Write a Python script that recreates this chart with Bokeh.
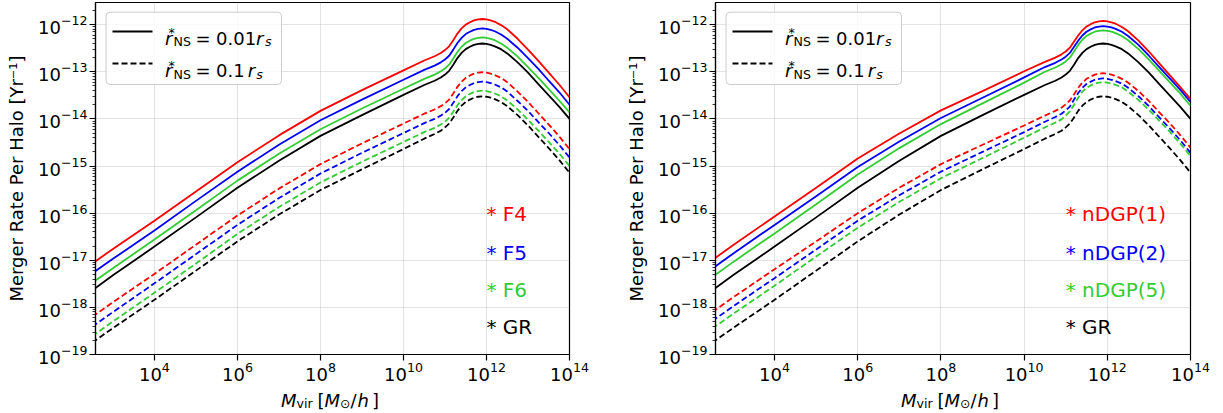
from bokeh.plotting import figure
from bokeh.models import Range1d, FixedTicker, LogTickFormatter, Label, BoxAnnotation, Arrow
from bokeh.layouts import row, column
from bokeh.embed import file_html
from bokeh.resources import INLINE

FONT = "DejaVu Sans"

# ---------------- data (log10 values) ----------------
log_mass = [2.5, 3.0, 4.0, 5.0, 6.0, 7.0, 8.0, 9.0, 10.0, 10.5, 10.75, 10.9, 11.0, 11.1,
            11.2, 11.3, 11.4, 11.5, 11.6, 11.7, 11.8, 11.9, 12.0, 12.1, 12.2, 12.35,
            12.5, 12.75, 13.0, 13.25, 13.5, 13.75, 14.0]

# left panel, r*_NS = 0.01 r_s
f4_solid = [-17.07, -16.76, -16.16, -15.54, -14.92, -14.35, -13.83, -13.39, -12.97, -12.76, -12.67,
            -12.60, -12.54, -12.46, -12.33, -12.19, -12.08, -12.00, -11.95, -11.91, -11.89, -11.88,
            -11.89, -11.91, -11.94, -12.01, -12.10, -12.30, -12.53, -12.77, -13.02, -13.27, -13.54]
f5_solid = [-17.28, -16.97, -16.37, -15.74, -15.12, -14.55, -14.03, -13.59, -13.17, -12.96, -12.87,
            -12.80, -12.74, -12.66, -12.53, -12.39, -12.28, -12.20, -12.15, -12.11, -12.09, -12.08,
            -12.09, -12.11, -12.14, -12.21, -12.30, -12.49, -12.71, -12.94, -13.19, -13.43, -13.70]
f6_solid = [-17.48, -17.17, -16.56, -15.94, -15.31, -14.74, -14.22, -13.78, -13.36, -13.15, -13.06,
            -12.99, -12.93, -12.85, -12.72, -12.58, -12.47, -12.39, -12.34, -12.30, -12.28, -12.27,
            -12.28, -12.30, -12.33, -12.40, -12.49, -12.68, -12.90, -13.13, -13.37, -13.61, -13.86]
gr_solid = [-17.64, -17.32, -16.71, -16.09, -15.46, -14.89, -14.36, -13.92, -13.49, -13.28, -13.19,
            -13.12, -13.06, -12.98, -12.85, -12.71, -12.60, -12.52, -12.47, -12.43, -12.41, -12.40,
            -12.41, -12.43, -12.46, -12.52, -12.61, -12.80, -13.02, -13.26, -13.50, -13.74, -14.00]
# left panel, r*_NS = 0.1 r_s
f4_dashed = [-18.20, -17.89, -17.29, -16.67, -16.05, -15.48, -14.96, -14.52, -14.10, -13.89, -13.80,
             -13.73, -13.67, -13.59, -13.46, -13.32, -13.21, -13.13, -13.08, -13.04, -13.02, -13.01,
             -13.02, -13.04, -13.07, -13.13, -13.22, -13.42, -13.64, -13.88, -14.12, -14.37, -14.64]
f5_dashed = [-18.41, -18.10, -17.49, -16.87, -16.25, -15.68, -15.16, -14.72, -14.30, -14.09, -14.00,
             -13.93, -13.87, -13.79, -13.66, -13.52, -13.41, -13.33, -13.28, -13.24, -13.22, -13.21,
             -13.22, -13.24, -13.27, -13.33, -13.42, -13.62, -13.83, -14.07, -14.30, -14.55, -14.82]
f6_dashed = [-18.61, -18.30, -17.69, -17.07, -16.44, -15.87, -15.35, -14.91, -14.49, -14.28, -14.19,
             -14.12, -14.06, -13.98, -13.85, -13.71, -13.60, -13.52, -13.47, -13.43, -13.41, -13.40,
             -13.41, -13.43, -13.46, -13.52, -13.61, -13.80, -14.02, -14.25, -14.49, -14.73, -15.00]
gr_dashed = [-18.75, -18.44, -17.84, -17.22, -16.60, -16.03, -15.51, -15.07, -14.64, -14.42, -14.32,
             -14.25, -14.18, -14.10, -13.97, -13.83, -13.72, -13.64, -13.59, -13.55, -13.53, -13.52,
             -13.53, -13.55, -13.58, -13.64, -13.73, -13.92, -14.14, -14.38, -14.62, -14.87, -15.14]

# right panel, r*_NS = 0.01 r_s
ndgp1_solid = [-17.00, -16.68, -16.07, -15.46, -14.84, -14.31, -13.82, -13.41, -12.99, -12.79, -12.70,
               -12.63, -12.57, -12.49, -12.36, -12.23, -12.12, -12.04, -11.99, -11.95, -11.93, -11.92,
               -11.93, -11.95, -11.98, -12.05, -12.14, -12.34, -12.57, -12.82, -13.07, -13.32, -13.58]
ndgp2_solid = [-17.18, -16.86, -16.25, -15.64, -15.02, -14.48, -13.98, -13.55, -13.12, -12.90, -12.81,
               -12.74, -12.68, -12.60, -12.47, -12.34, -12.23, -12.15, -12.10, -12.06, -12.04, -12.03,
               -12.04, -12.06, -12.09, -12.15, -12.24, -12.43, -12.66, -12.90, -13.14, -13.38, -13.64]
ndgp5_solid = [-17.36, -17.04, -16.43, -15.81, -15.18, -14.62, -14.11, -13.67, -13.23, -13.00, -12.91,
               -12.84, -12.78, -12.70, -12.57, -12.43, -12.32, -12.24, -12.19, -12.15, -12.13, -12.12,
               -12.13, -12.15, -12.18, -12.24, -12.33, -12.52, -12.74, -12.98, -13.22, -13.46, -13.72]
# right panel, r*_NS = 0.1 r_s
ndgp1_dashed = [-18.10, -17.79, -17.19, -16.60, -16.00, -15.46, -14.96, -14.55, -14.14, -13.93, -13.83,
                -13.76, -13.69, -13.61, -13.48, -13.34, -13.23, -13.15, -13.10, -13.06, -13.04, -13.03,
                -13.04, -13.06, -13.09, -13.15, -13.23, -13.41, -13.62, -13.86, -14.09, -14.34, -14.61]
ndgp2_dashed = [-18.29, -17.98, -17.38, -16.77, -16.16, -15.62, -15.12, -14.70, -14.28, -14.06, -13.96,
                -13.89, -13.82, -13.74, -13.59, -13.45, -13.34, -13.26, -13.21, -13.17, -13.15, -13.14,
                -13.15, -13.17, -13.20, -13.25, -13.34, -13.52, -13.73, -13.97, -14.20, -14.45, -14.72]
ndgp5_dashed = [-18.45, -18.14, -17.54, -16.92, -16.31, -15.76, -15.26, -14.83, -14.40, -14.18, -14.08,
                -14.01, -13.93, -13.84, -13.70, -13.55, -13.42, -13.34, -13.29, -13.25, -13.23, -13.22,
                -13.23, -13.25, -13.28, -13.33, -13.42, -13.60, -13.81, -14.04, -14.27, -14.52, -14.79]

left_names = ["* F4", "* F5", "* F6", "* GR"]
right_names = ["* nDGP(1)", "* nDGP(2)", "* nDGP(5)", "* GR"]
colors = ["#ff0000", "#0000ff", "#32cd32", "#000000"]
left_annot_x = 1e12
right_annot_x = 1e11
annot_y = [10 ** -16.02, 10 ** -16.85, 10 ** -17.63, 10 ** -18.42]

x_ticks = [1e4, 1e6, 1e8, 1e10, 1e12, 1e14]
y_ticks = [1e-19, 1e-18, 1e-17, 1e-16, 1e-15, 1e-14, 1e-13, 1e-12]
y_minor = [m * 10.0 ** k for k in range(-20, -11) for m in range(2, 10)]
X_MIN, X_MAX = 10 ** 2.58, 1e14
Y_MIN, Y_MAX = 1e-19, 10 ** -11.53

mass = [10 ** v for v in log_mass]

DASH = "6 3"
LW = 1.8


def add_text(p, text, sx, sy, size, style="normal", color="black"):
    p.add_layout(Label(x=sx, y=sy, x_units="screen", y_units="screen", text=text,
                       text_font=FONT, text_font_size=f"{size}px", text_font_style=style,
                       text_color=color, text_baseline="alphabetic", text_align="left"))


def make_panel(solid, dashed, names, annot_x, fw, border_left, border_right):
    p = figure(x_axis_type="log", y_axis_type="log",
               x_range=Range1d(X_MIN, X_MAX), y_range=Range1d(Y_MIN, Y_MAX),
               frame_width=fw, frame_height=352,
               min_border_left=border_left, min_border_right=border_right,
               min_border_top=2, min_border_bottom=57,
               output_backend="svg", toolbar_location=None)
    p.background_fill_color = "white"
    p.border_fill_color = "white"
    p.outline_line_color = "black"
    p.outline_line_width = 1.2
    p.outline_line_alpha = 1.0

    xt = FixedTicker(ticks=x_ticks, minor_ticks=[])
    yt = FixedTicker(ticks=y_ticks, minor_ticks=y_minor)
    p.xaxis.ticker = xt
    p.yaxis.ticker = yt
    p.xgrid.ticker = xt
    p.ygrid.ticker = yt
    p.xaxis.formatter = LogTickFormatter()
    p.yaxis.formatter = LogTickFormatter()
    for g in (p.xgrid, p.ygrid):
        g.grid_line_color = "#b0b0b0"
        g.grid_line_alpha = 0.35
        g.grid_line_width = 1
    for ax in (p.xaxis, p.yaxis):
        ax.axis_line_color = "black"
        ax.axis_line_width = 1.2
        ax.major_tick_line_color = "black"
        ax.major_tick_line_width = 1.2
        ax.minor_tick_line_color = "black"
        ax.minor_tick_line_width = 0.8
        ax.major_tick_out = 6
        ax.major_tick_in = 0
        ax.minor_tick_out = 3
        ax.minor_tick_in = 0
        ax.major_label_text_font = FONT
        ax.major_label_text_font_size = "18px"
        ax.major_label_text_color = "black"
    p.xaxis.major_label_standoff = 1
    p.yaxis.major_label_standoff = 2
    p.yaxis.axis_label = "Merger Rate Per Halo [Yr\u207b\u00b9]"
    p.yaxis.axis_label_text_font = FONT
    p.yaxis.axis_label_text_font_size = "18px"
    p.yaxis.axis_label_text_font_style = "normal"
    p.yaxis.axis_label_text_color = "black"
    p.yaxis.axis_label_standoff = 8

    for ys, c in zip(solid, colors):
        p.line(mass, [10 ** v for v in ys], line_color=c, line_width=LW)
    for ys, c in zip(dashed, colors):
        p.line(mass, [10 ** v for v in ys], line_color=c, line_width=LW, line_dash=DASH)

    # legend box, sample lines and math labels (screen units, frame relative)
    box = BoxAnnotation(left=10.5, right=186, top=342.3, bottom=270,
                        left_units="screen", right_units="screen",
                        top_units="screen", bottom_units="screen",
                        fill_color="white", fill_alpha=0.8,
                        line_color="#cccccc", line_alpha=1.0, line_width=1)
    try:
        box.border_radius = 4
    except Exception:
        pass
    p.add_layout(box)
    p.add_layout(Arrow(end=None, x_start=17, y_start=323, x_end=57, y_end=323,
                       start_units="screen", end_units="screen",
                       line_color="black", line_width=LW))
    p.add_layout(Arrow(end=None, x_start=17, y_start=291, x_end=57, y_end=291,
                       start_units="screen", end_units="screen",
                       line_color="black", line_width=LW, line_dash=DASH))

    for base_y, num, r_x, s_x in ((352 - 35.5, "0.01", 160.5, 169.5), (352 - 68.0, "0.1", 152.3, 160.7)):
        add_text(p, "r", 69.5, base_y, 18, "italic")
        add_text(p, "*", 73.0, base_y + 5.5, 12.6)
        add_text(p, "NS", 78.0, base_y - 3.5, 12.6)
        add_text(p, "=", 100, base_y, 18)
        add_text(p, num, 120.5, base_y, 18)
        add_text(p, "r", r_x, base_y, 18, "italic")
        add_text(p, "s", s_x, base_y - 3.5, 12.6, "italic")

    for name, yv, c in zip(names, annot_y, colors):
        p.add_layout(Label(x=annot_x, y=yv, text=name, text_font=FONT, text_font_size="20px",
                           text_color=c, text_baseline="alphabetic", text_align="left"))
    return p


p1 = make_panel([f4_solid, f5_solid, f6_solid, gr_solid],
                [f4_dashed, f5_dashed, f6_dashed, gr_dashed],
                left_names, left_annot_x, 474, 95, 51)
p2 = make_panel([ndgp1_solid, ndgp2_solid, ndgp5_solid, gr_solid],
                [ndgp1_dashed, ndgp2_dashed, ndgp5_dashed, gr_dashed],
                right_names, right_annot_x, 475, 95, 25)

# strip carrying the x-axis labels  M_vir [M_sun/h]  (overlaps the bottom border of the panels)
XL_H = 30
q = figure(frame_width=1215, frame_height=XL_H, min_border=0,
           x_range=Range1d(0, 1), y_range=Range1d(0, 1),
           x_axis_location=None, y_axis_location=None,
           output_backend="svg", toolbar_location=None)
q.outline_line_color = None
q.background_fill_alpha = 0
q.border_fill_alpha = 0
q.xgrid.visible = False
q.ygrid.visible = False
xb = XL_H - (400.3 - 383)
for off in (0, 620):
    add_text(q, "M", 280.5 + off, xb, 18, "italic")
    add_text(q, "vir", 296 + off, xb - 2.5, 12.6)
    add_text(q, "[", 317 + off, xb, 18)
    add_text(q, "M", 324 + off, xb, 18, "italic")
    add_text(q, "\u2299", 339.5 + off, xb - 3, 12.6)
    add_text(q, "/", 350 + off, xb, 18)
    add_text(q, "h", 357 + off, xb, 18, "italic")
    add_text(q, "]", 371.5 + off, xb, 18)
q.margin = (-28, 0, 0, 0)

layout = column(row(p1, p2), q)

open("out.html", "w").write(file_html(layout, INLINE))
